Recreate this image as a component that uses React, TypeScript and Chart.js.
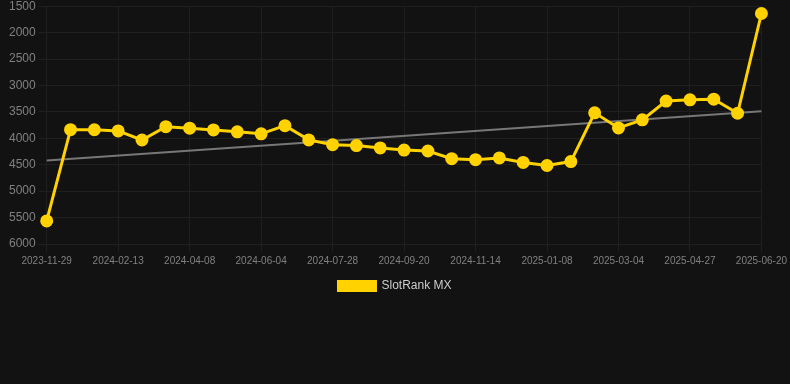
import React, { useEffect, useRef } from "react";
import { Chart, registerables } from "chart.js";

Chart.register(...registerables);

const dates = [
  "2023-11-29", "2023-12-24", "2024-01-19", "2024-02-13", "2024-03-02", "2024-03-20",
  "2024-04-08", "2024-04-27", "2024-05-16", "2024-06-04", "2024-06-22", "2024-07-10",
  "2024-07-28", "2024-08-15", "2024-09-02", "2024-09-20", "2024-10-08", "2024-10-26",
  "2024-11-14", "2024-12-02", "2024-12-20", "2025-01-08", "2025-01-26", "2025-02-13",
  "2025-03-04", "2025-03-22", "2025-04-09", "2025-04-27", "2025-05-15", "2025-06-02",
  "2025-06-20",
];

const rankValues = [
  5564, 3836, 3838, 3860, 4032, 3780,
  3808, 3842, 3878, 3915, 3760, 4030,
  4120, 4138, 4182, 4222, 4240, 4386,
  4405, 4372, 4456, 4515, 4440, 3518,
  3804, 3650, 3295, 3272, 3260, 3526,
  1638,
];

const trendStart = 4418;
const trendEnd = 3488;

const seriesLabel = "SlotRank MX";

export default function App() {
  const ref = useRef<HTMLCanvasElement | null>(null);

  useEffect(() => {
    document.body.style.margin = "0";
    document.body.style.background = "#121212";
    const trend = dates.map((_, i) =>
      i === 0 ? trendStart : i === dates.length - 1 ? trendEnd : null
    );
    const font = "'Liberation Sans', Arial, Helvetica, sans-serif";
    const chart = new Chart(ref.current!, {
      type: "line",
      data: {
        labels: dates,
        datasets: [
          {
            label: seriesLabel,
            data: rankValues,
            borderColor: "#FFD200",
            backgroundColor: "#FFD200",
            borderWidth: 3,
            pointRadius: 5,
            pointHoverRadius: 5,
            pointBackgroundColor: "#FFD200",
            pointBorderColor: "#FFD200",
            tension: 0,
            order: 1,
          },
          {
            label: "trend",
            data: trend,
            borderColor: "#777777",
            backgroundColor: "#777777",
            borderWidth: 2,
            pointRadius: 0,
            spanGaps: true,
            order: 2,
          },
        ],
      },
      options: {
        animation: false,
        responsive: true,
        maintainAspectRatio: false,
        font: { family: font },
        plugins: {
          legend: {
            position: "bottom",
            labels: {
              color: "#cccccc",
              boxWidth: 37,
              boxHeight: 9,
              font: { family: font, size: 12 },
              filter: (item) => item.text === seriesLabel,
            },
          },
          tooltip: { enabled: false },
        },
        scales: {
          x: {
            offset: false,
            grid: { color: "#1f1f1f", tickColor: "#1f1f1f" },
            border: { color: "#1f1f1f" },
            ticks: {
              color: "#808080",
              autoSkip: false,
              maxRotation: 0,
              font: { family: font, size: 10 },
              callback: function (_v, i) {
                return i % 3 === 0 ? dates[i] : null;
              },
            },
          },
          y: {
            reverse: true,
            min: 1500,
            max: 6000,
            afterFit: (s) => {
              s.width += 6;
            },
            grid: { color: "#1f1f1f", tickColor: "#1f1f1f" },
            border: { color: "#1f1f1f" },
            ticks: {
              stepSize: 500,
              color: "#808080",
              font: { family: font, size: 12 },
              callback: (v) => String(v),
            },
          },
        },
      },
    });
    return () => chart.destroy();
  }, []);

  return (
    <div style={{ position: "relative", width: 790, height: 306, marginTop: -4 }}>
      <canvas ref={ref} />
    </div>
  );
}
